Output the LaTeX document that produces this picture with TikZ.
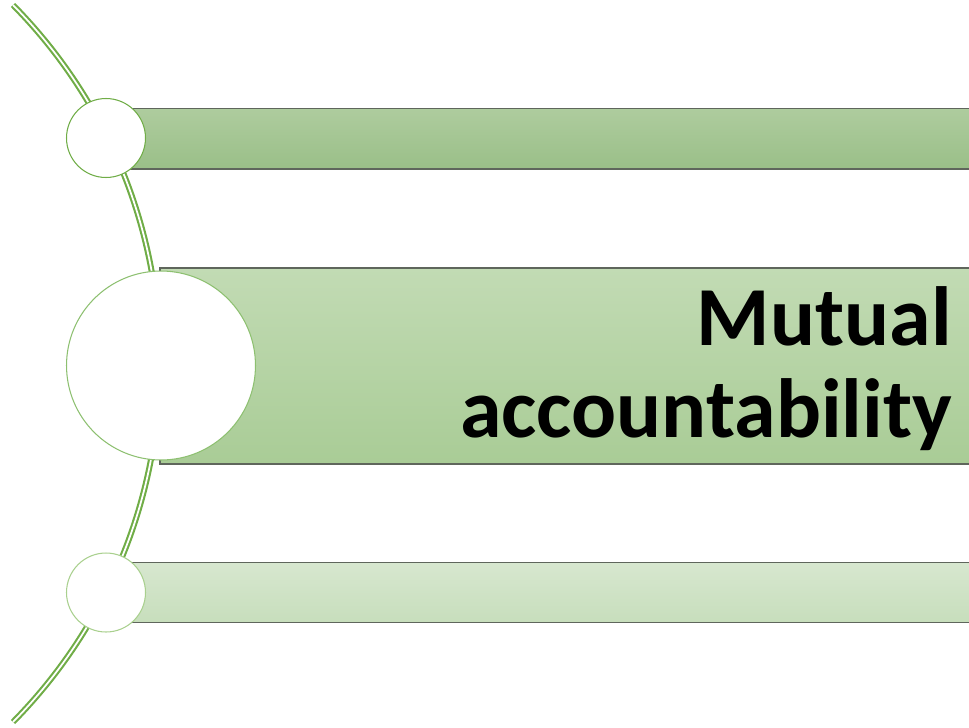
\documentclass[tikz,border=0pt]{standalone}
\usepackage{fontspec}
\setmainfont{Carlito}
\usepackage{tikz}
\definecolor{arcgreen}{RGB}{112,173,71}
\definecolor{ringa}{RGB}{112,173,71}
\definecolor{ringb}{RGB}{141,192,112}
\definecolor{ringc}{RGB}{169,208,142}
\definecolor{edgegray}{RGB}{95,102,92}
\definecolor{barAtop}{RGB}{174,204,158}
\definecolor{barAbot}{RGB}{154,191,136}
\definecolor{barBtop}{RGB}{194,219,180}
\definecolor{barBbot}{RGB}{169,204,150}
\definecolor{barCtop}{RGB}{215,231,207}
\definecolor{barCbot}{RGB}{199,222,188}

\begin{document}
\begin{tikzpicture}
[x=0.02cm,y=-0.02cm,
 bar/.style={draw=edgegray,line width=0.8pt},
 ring/.style={circle,draw,fill=white,line width=0.6pt,inner sep=0pt}]
\clip (0,0) rectangle (969,727);
\useasboundingbox (0,0) rectangle (969,727);

\draw [arcgreen,double=white,double distance=1pt,line width=1.2pt] (13,5) arc[start angle=-44.6,end angle=44.6,radius=510.6];

\shade [bar,top color=barAtop,bottom color=barAbot] (128,108.5) rectangle (975,169);
\shade [bar,top color=barBtop,bottom color=barBbot] (160,268) rectangle (975,464);
\shade [bar,top color=barCtop,bottom color=barCbot] (128,562.5) rectangle (975,622.5);

\node[ring,draw=ringa,minimum size=1.58cm] (r1) at (106,138) {};
\node[ring,draw=ringb,minimum size=3.78cm] (r2) at (161,365.5) {};
\node[ring,draw=ringc,minimum size=1.58cm] (r3) at (106,592.5) {};

\node[anchor=east,inner sep=0pt,align=right,font=\fontsize{47.8pt}{52.2pt}\selectfont\bfseries] (title) at (952,368.5) {Mutual\\accountability};
\end{tikzpicture}
\end{document}
